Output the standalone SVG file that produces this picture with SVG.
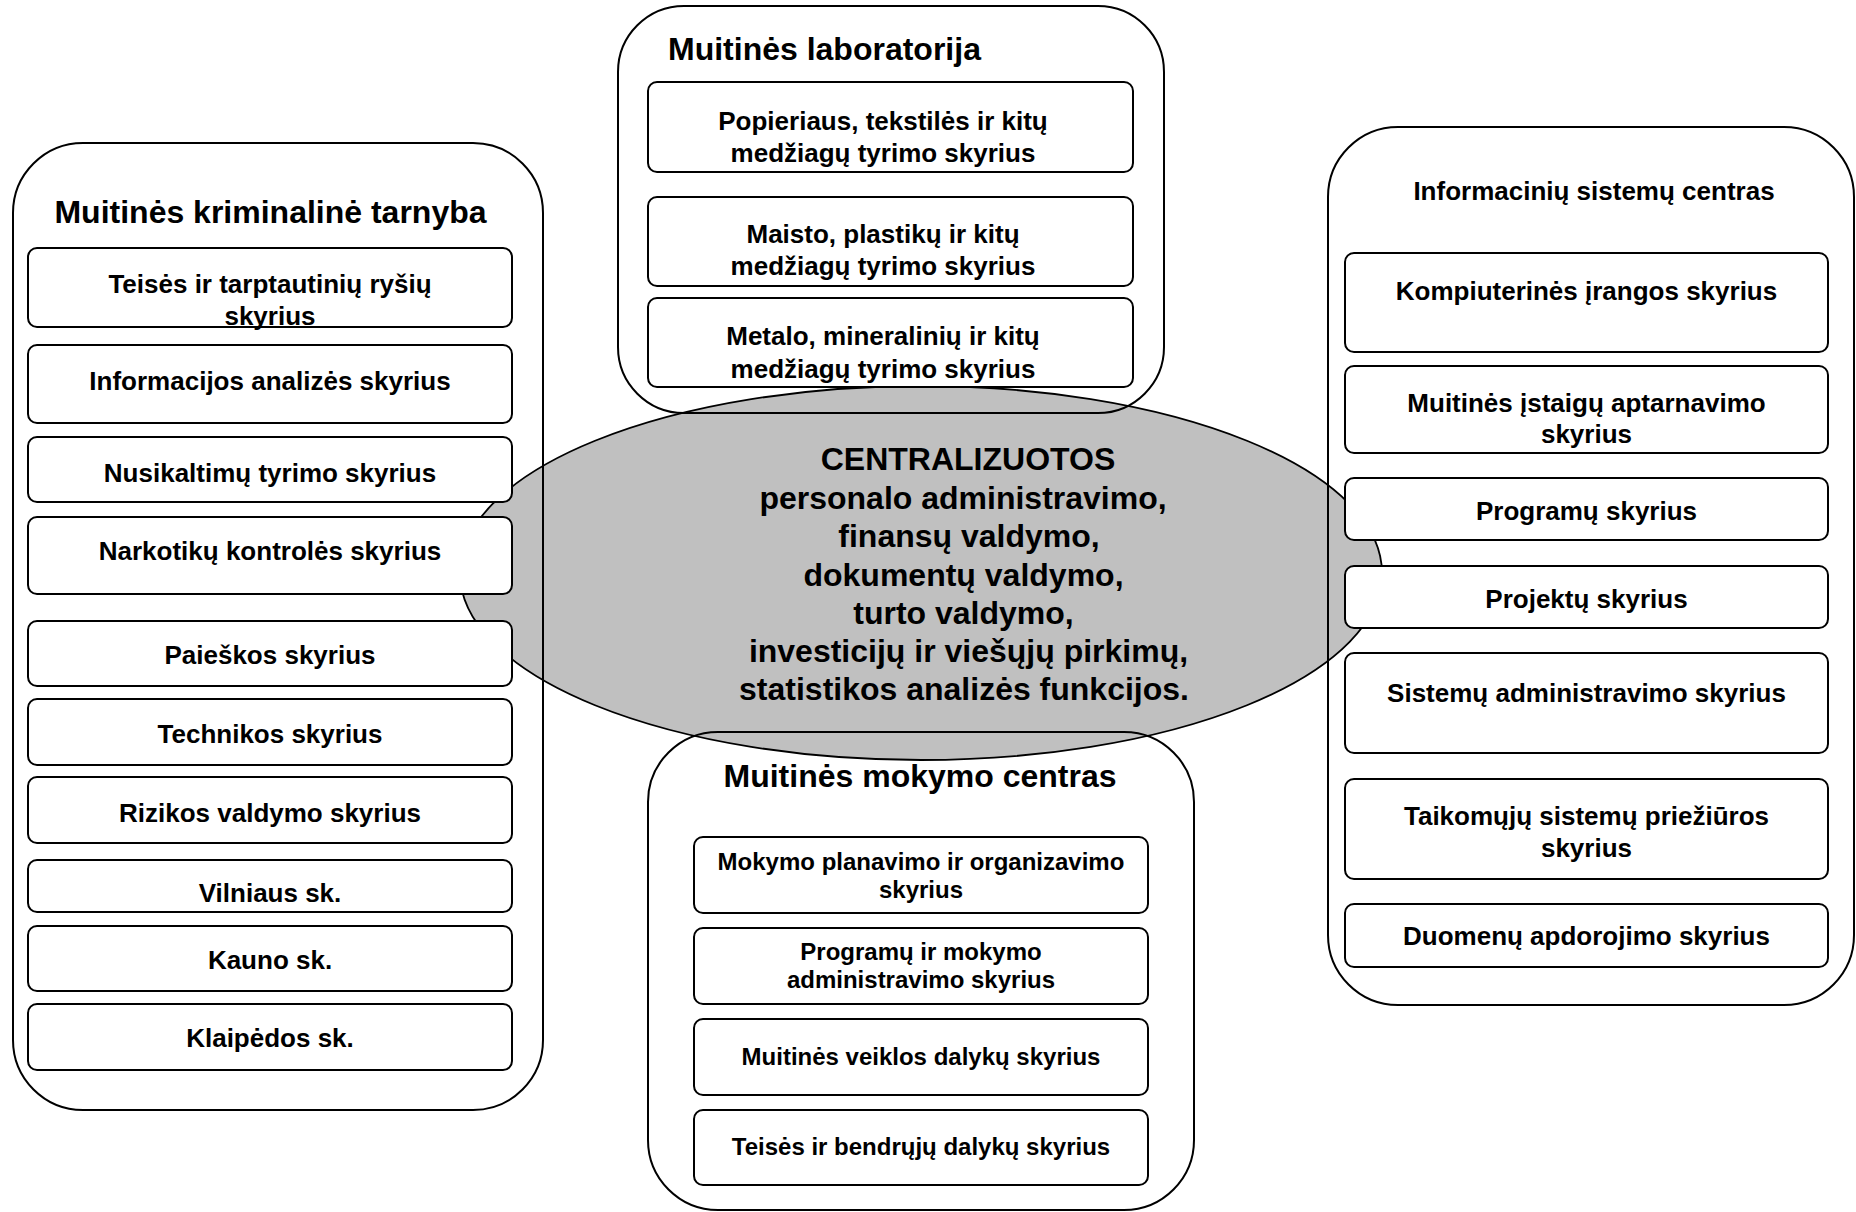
<svg xmlns="http://www.w3.org/2000/svg" width="1856" height="1212" viewBox="0 0 1856 1212">
<style>
.c{fill:none;stroke:#000;stroke-width:2}
.b{fill:#fff;stroke:#000;stroke-width:2}
.e{fill:#c0c0c0;stroke:#000;stroke-width:1.8}
.t{font-family:"Liberation Sans",Arial,sans-serif;font-weight:bold;fill:#000;text-anchor:middle}
.l{text-anchor:start}
.s24{font-size:24px}.s26{font-size:26px}.s32{font-size:32px}
</style>
<rect width="1856" height="1212" fill="#fff"/>
<g id="center">
<ellipse class="e" cx="921" cy="573" rx="461" ry="187"/>
<text class="t s32" x="968" y="470">CENTRALIZUOTOS</text>
<text class="t s32" x="963" y="508.5">personalo administravimo,</text>
<text class="t s32" x="969" y="547">finansų valdymo,</text>
<text class="t s32" x="963.5" y="585.5">dokumentų valdymo,</text>
<text class="t s32" x="963.5" y="624">turto valdymo,</text>
<text class="t s32" x="968.5" y="662">investicijų ir viešųjų pirkimų,</text>
<text class="t s32" x="964" y="700">statistikos analizės funkcijos.</text>
</g>
<g id="connectors"></g>
<g id="kriminaline">
<rect class="c" x="13" y="143" width="530" height="967" rx="70"/>
<text class="t s32" x="270.5" y="223">Muitinės kriminalinė tarnyba</text>
<rect class="b" x="28" y="248" width="484" height="79" rx="9"/>
<text class="t s26" x="270" y="293">Teisės ir tarptautinių ryšių</text>
<text class="t s26" x="270" y="325">skyrius</text>
<rect class="b" x="28" y="345" width="484" height="78" rx="9"/>
<text class="t s26" x="270" y="390">Informacijos analizės skyrius</text>
<rect class="b" x="28" y="437" width="484" height="65" rx="9"/>
<text class="t s26" x="270" y="482">Nusikaltimų tyrimo skyrius</text>
<rect class="b" x="28" y="517" width="484" height="77" rx="9"/>
<text class="t s26" x="270" y="560">Narkotikų kontrolės skyrius</text>
<rect class="b" x="28" y="621" width="484" height="65" rx="9"/>
<text class="t s26" x="270" y="664">Paieškos skyrius</text>
<rect class="b" x="28" y="699" width="484" height="66" rx="9"/>
<text class="t s26" x="270" y="743">Technikos skyrius</text>
<rect class="b" x="28" y="777" width="484" height="66" rx="9"/>
<text class="t s26" x="270" y="822">Rizikos valdymo skyrius</text>
<rect class="b" x="28" y="860" width="484" height="52" rx="9"/>
<text class="t s26" x="270" y="902">Vilniaus sk.</text>
<rect class="b" x="28" y="926" width="484" height="65" rx="9"/>
<text class="t s26" x="270" y="969">Kauno sk.</text>
<rect class="b" x="28" y="1004" width="484" height="66" rx="9"/>
<text class="t s26" x="270" y="1047">Klaipėdos sk.</text>
</g>
<g id="laboratorija">
<rect class="c" x="618" y="6" width="546" height="407" rx="66"/>
<text class="t l s32" x="668" y="60">Muitinės laboratorija</text>
<rect class="b" x="648" y="82" width="485" height="90" rx="9"/>
<text class="t s26" x="883" y="130">Popieriaus, tekstilės ir kitų</text>
<text class="t s26" x="883" y="162">medžiagų tyrimo skyrius</text>
<rect class="b" x="648" y="197" width="485" height="89" rx="9"/>
<text class="t s26" x="883" y="243">Maisto, plastikų ir kitų</text>
<text class="t s26" x="883" y="275">medžiagų tyrimo skyrius</text>
<rect class="b" x="648" y="298" width="485" height="89" rx="9"/>
<text class="t s26" x="883" y="345">Metalo, mineralinių ir kitų</text>
<text class="t s26" x="883" y="378">medžiagų tyrimo skyrius</text>
</g>
<g id="mokymo">
<rect class="c" x="648" y="732" width="546" height="478" rx="70"/>
<text class="t s32" x="920" y="787">Muitinės mokymo centras</text>
<rect class="b" x="694" y="837" width="454" height="76" rx="9"/>
<text class="t s24" x="921" y="870">Mokymo planavimo ir organizavimo</text>
<text class="t s24" x="921" y="898">skyrius</text>
<rect class="b" x="694" y="928" width="454" height="76" rx="9"/>
<text class="t s24" x="921" y="960">Programų ir mokymo</text>
<text class="t s24" x="921" y="988">administravimo skyrius</text>
<rect class="b" x="694" y="1019" width="454" height="76" rx="9"/>
<text class="t s24" x="921" y="1065">Muitinės veiklos dalykų skyrius</text>
<rect class="b" x="694" y="1110" width="454" height="75" rx="9"/>
<text class="t s24" x="921" y="1155">Teisės ir bendrųjų dalykų skyrius</text>
</g>
<g id="informaciniu">
<rect class="c" x="1328" y="127" width="526" height="878" rx="70"/>
<text class="t s26" x="1594" y="200">Informacinių sistemų centras</text>
<rect class="b" x="1345" y="253" width="483" height="99" rx="9"/>
<text class="t s26" x="1586.5" y="300">Kompiuterinės įrangos skyrius</text>
<rect class="b" x="1345" y="366" width="483" height="87" rx="9"/>
<text class="t s26" x="1586.5" y="412">Muitinės įstaigų aptarnavimo</text>
<text class="t s26" x="1586.5" y="443">skyrius</text>
<rect class="b" x="1345" y="478" width="483" height="62" rx="9"/>
<text class="t s26" x="1586.5" y="520">Programų skyrius</text>
<rect class="b" x="1345" y="566" width="483" height="62" rx="9"/>
<text class="t s26" x="1586.5" y="608">Projektų skyrius</text>
<rect class="b" x="1345" y="653" width="483" height="100" rx="9"/>
<text class="t s26" x="1586.5" y="702">Sistemų administravimo skyrius</text>
<rect class="b" x="1345" y="779" width="483" height="100" rx="9"/>
<text class="t s26" x="1586.5" y="825">Taikomųjų sistemų priežiūros</text>
<text class="t s26" x="1586.5" y="857">skyrius</text>
<rect class="b" x="1345" y="904" width="483" height="63" rx="9"/>
<text class="t s26" x="1586.5" y="945">Duomenų apdorojimo skyrius</text>
</g>
</svg>
